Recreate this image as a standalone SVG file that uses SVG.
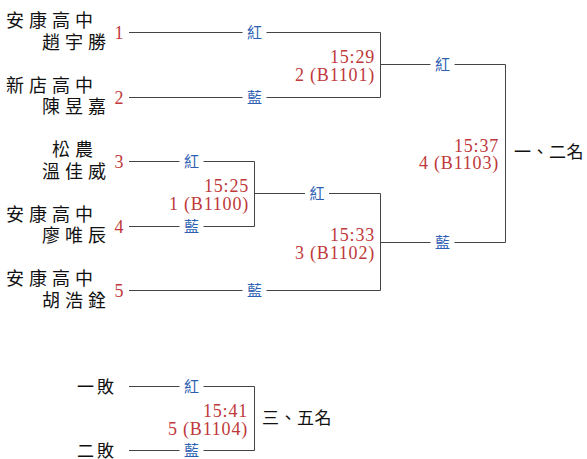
<svg xmlns="http://www.w3.org/2000/svg" width="587" height="459" viewBox="0 0 587 459">
<style>
.bg{fill:#ffffff}
.conn{fill:none;stroke:#444444;stroke-width:1}
.name{font-family:"Noto Sans CJK TC","Noto Sans CJK SC",sans-serif;font-size:18px;fill:#111111;letter-spacing:5px;text-anchor:end}
.place{font-family:"Noto Sans CJK TC","Noto Sans CJK SC",sans-serif;font-size:17px;fill:#111111;letter-spacing:0.5px}
.lose{font-family:"Noto Sans CJK TC","Noto Sans CJK SC",sans-serif;font-size:17px;fill:#111111;letter-spacing:3px;text-anchor:end}
.seed{font-family:"Liberation Serif",serif;font-size:18px;fill:#c0393b;text-anchor:middle}
.info{font-family:"Liberation Serif",serif;font-size:18px;fill:#c0393b;letter-spacing:0.8px;text-anchor:end}
.side{font-family:"Noto Sans CJK TC","Noto Sans CJK SC",sans-serif;font-size:15px;fill:#2f5fb3;text-anchor:middle}
</style>
<rect class="bg" x="0" y="0" width="587" height="459"/>
<g id="connectors">
<path class="conn" d="M129 32.5 H242.5 M266.5 32.5 H380.5 V97.5 H266.5 M242.5 97.5 H129"/>
<path class="conn" d="M380.5 64.5 H430.5 M454.5 64.5 H505.5 V242.5 H454.5 M430.5 242.5 H380.5"/>
<path class="conn" d="M129 161.5 H179.5 M203.5 161.5 H254.5 V226.5 H203.5 M179.5 226.5 H129"/>
<path class="conn" d="M254.5 193.5 H305 M329 193.5 H380.5 V290.5 H266.5 M242.5 290.5 H129"/>
<path class="conn" d="M129 386.5 H179.5 M203.5 386.5 H254.5 V450.5 H203.5 M179.5 450.5 H129"/>
</g>
<g id="team1">
<text class="name" x="98" y="27">安康高中</text>
<text class="name" x="111" y="48.5">趙宇勝</text>
<text class="seed" x="119" y="38.5">1</text>
</g>
<g id="team2">
<text class="name" x="98" y="91.6">新店高中</text>
<text class="name" x="111" y="113">陳昱嘉</text>
<text class="seed" x="119" y="103.5">2</text>
</g>
<g id="team3">
<text class="name" x="98" y="156.2">松農</text>
<text class="name" x="111" y="177.7">溫佳威</text>
<text class="seed" x="119" y="167.5">3</text>
</g>
<g id="team4">
<text class="name" x="98" y="220.8">安康高中</text>
<text class="name" x="111" y="242.3">廖唯辰</text>
<text class="seed" x="119" y="232.5">4</text>
</g>
<g id="team5">
<text class="name" x="98" y="285.4">安康高中</text>
<text class="name" x="111" y="306.9">胡浩銓</text>
<text class="seed" x="119" y="296.5">5</text>
</g>
<g id="sides">
<text class="side" x="254.5" y="37.5">紅</text>
<text class="side" x="254.5" y="102.5">藍</text>
<text class="side" x="191.5" y="166.5">紅</text>
<text class="side" x="191.5" y="231.5">藍</text>
<text class="side" x="254.5" y="295.5">藍</text>
<text class="side" x="317" y="198.5">紅</text>
<text class="side" x="442.5" y="69.5">紅</text>
<text class="side" x="442.5" y="247.5">藍</text>
<text class="side" x="191.5" y="391.5">紅</text>
<text class="side" x="191.5" y="455.5">藍</text>
</g>
<g id="match1">
<text class="info" x="249" y="191.5">15:25</text>
<text class="info" x="249" y="209.5">1 (B1100)</text>
</g>
<g id="match2">
<text class="info" x="375" y="62.5">15:29</text>
<text class="info" x="375" y="80.5">2 (B1101)</text>
</g>
<g id="match3">
<text class="info" x="375" y="240.5">15:33</text>
<text class="info" x="375" y="258.5">3 (B1102)</text>
</g>
<g id="match4">
<text class="info" x="499" y="151.5">15:37</text>
<text class="info" x="499" y="169">4 (B1103)</text>
<text class="place" x="514" y="157.5">一、二名</text>
</g>
<g id="match5">
<text class="lose" x="117" y="393">一敗</text>
<text class="lose" x="117" y="457">二敗</text>
<text class="info" x="248" y="417">15:41</text>
<text class="info" x="248" y="434.5">5 (B1104)</text>
<text class="place" x="262" y="424">三、五名</text>
</g>
</svg>
